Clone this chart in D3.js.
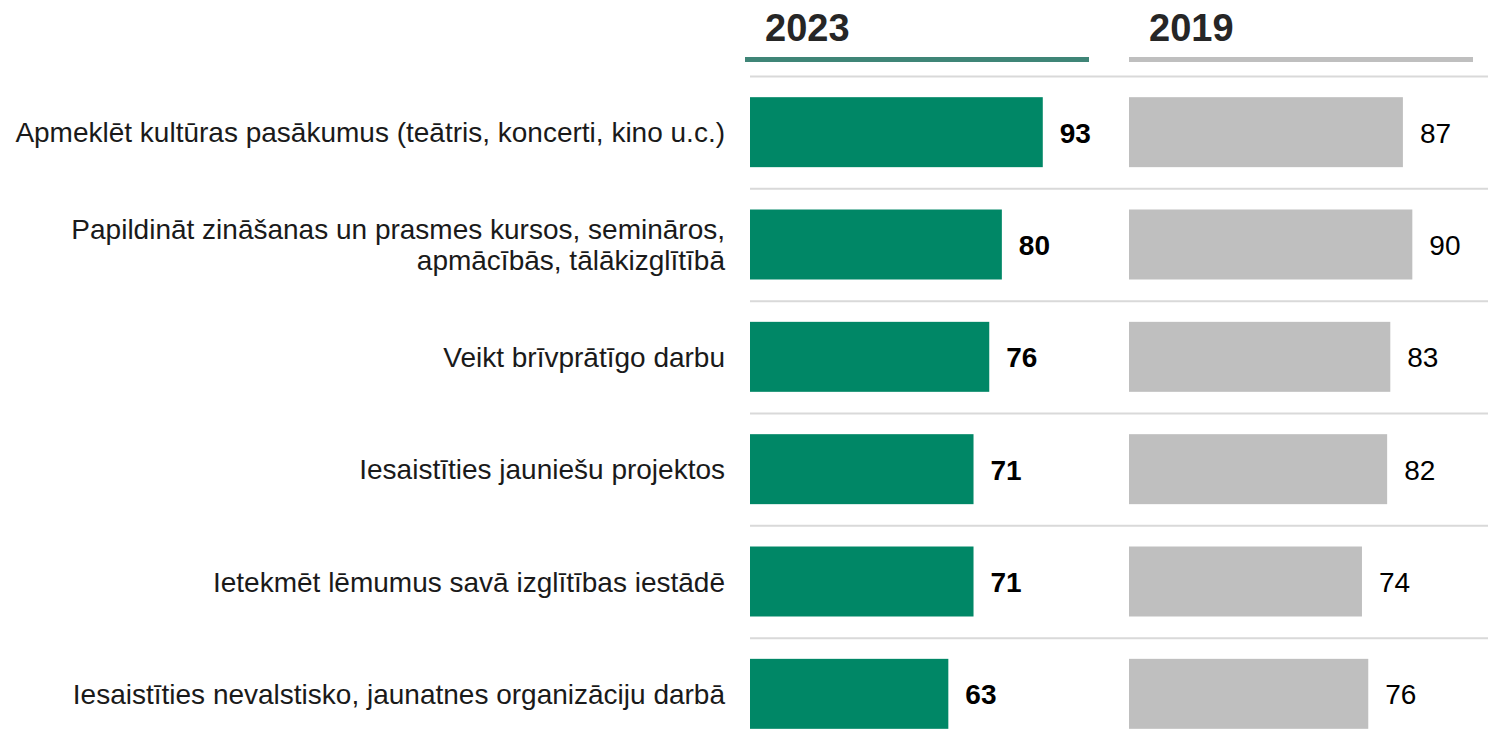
<!DOCTYPE html>
<html>
<head>
<meta charset="utf-8">
<script src="https://cdn.jsdelivr.net/npm/d3@7"></script>
<style>
  body { margin: 0; background: #fff; }
  svg { display: block; font-family: "Liberation Sans", Arial, sans-serif; }
</style>
</head>
<body>
<svg id="chart" width="1488" height="745"></svg>
<script>
// data
let categories = [
  "Apmeklēt kultūras pasākumus (teātris, koncerti, kino u.c.)",
  "Papildināt zināšanas un prasmes kursos, semināros,\napmācībās, tālākizglītībā",
  "Veikt brīvprātīgo darbu",
  "Iesaistīties jauniešu projektos",
  "Ietekmēt lēmumus savā izglītības iestādē",
  "Iesaistīties nevalstisko, jaunatnes organizāciju darbā"
];
let years = ["2023", "2019"];
let values2023 = [93, 80, 76, 71, 71, 63];
let values2019 = [87, 90, 83, 82, 74, 76];

let svg = d3.select("#chart");

let rowTop = 76;
let rowBottom = 750;

let y = d3.scaleBand()
  .domain(categories)
  .range([rowTop, rowBottom])
  .paddingInner(0.377)
  .paddingOuter(0.1885);

let x = d3.scaleLinear().domain([0, 108]).range([0, 340]);

// panels: 2023 green + bold labels, 2019 gray
let panels = [
  {year: years[0], x0: 750, lineX: -5, values: values2023, fill: "#008766", line: "#3f8577", bold: true},
  {year: years[1], x0: 1129, lineX: 0, values: values2019, fill: "#bfbfbf", line: "#bfbfbf", bold: false}
];

// row separators
let step = y.step();
svg.selectAll(".sep")
  .data(d3.range(categories.length))
  .enter()
  .append("line")
  .attr("class", "sep")
  .attr("x1", 750)
  .attr("x2", 1488)
  .attr("y1", function (d) { return rowTop + d * step + 0.5; })
  .attr("y2", function (d) { return rowTop + d * step + 0.5; })
  .attr("stroke", "#d9d9d9")
  .attr("stroke-width", 2);

// category labels
let labels = svg.selectAll(".cat")
  .data(categories)
  .enter()
  .append("text")
  .attr("class", "cat")
  .attr("text-anchor", "end")
  .attr("font-size", 28)
  .attr("fill", "#1a1a1a");

labels.each(function (d) {
  let lines = d.split("\n");
  let cy = y(d) + y.bandwidth() / 2;
  let lh = 31;
  let first = cy + 10 - (lines.length - 1) * lh / 2;
  let t = d3.select(this);
  lines.forEach(function (l, i) {
    t.append("tspan")
      .attr("x", 725)
      .attr("y", first + i * lh)
      .text(l);
  });
});

panels.forEach(function (p) {
  let g = svg.append("g").attr("transform", "translate(" + p.x0 + ",0)");

  // header
  g.append("text")
    .attr("x", p.lineX + 20)
    .attr("y", 41)
    .attr("font-size", 38)
    .attr("font-weight", "bold")
    .attr("fill", "#262626")
    .text(p.year);

  g.append("rect")
    .attr("x", p.lineX)
    .attr("y", 57)
    .attr("width", 344)
    .attr("height", 5)
    .attr("fill", p.line);

  // bars
  g.selectAll(".bar")
    .data(p.values)
    .enter()
    .append("rect")
    .attr("class", "bar")
    .attr("x", 0)
    .attr("y", function (d, i) { return y(categories[i]); })
    .attr("width", function (d) { return x(d); })
    .attr("height", y.bandwidth())
    .attr("fill", p.fill);

  // value labels
  g.selectAll(".val")
    .data(p.values)
    .enter()
    .append("text")
    .attr("class", "val")
    .attr("x", function (d) { return x(d) + 17; })
    .attr("y", function (d, i) { return y(categories[i]) + y.bandwidth() / 2 + 10.5; })
    .attr("font-size", 28)
    .attr("font-weight", p.bold ? "bold" : "normal")
    .attr("fill", "#000")
    .text(function (d) { return d; });
});
</script>
</body>
</html>
